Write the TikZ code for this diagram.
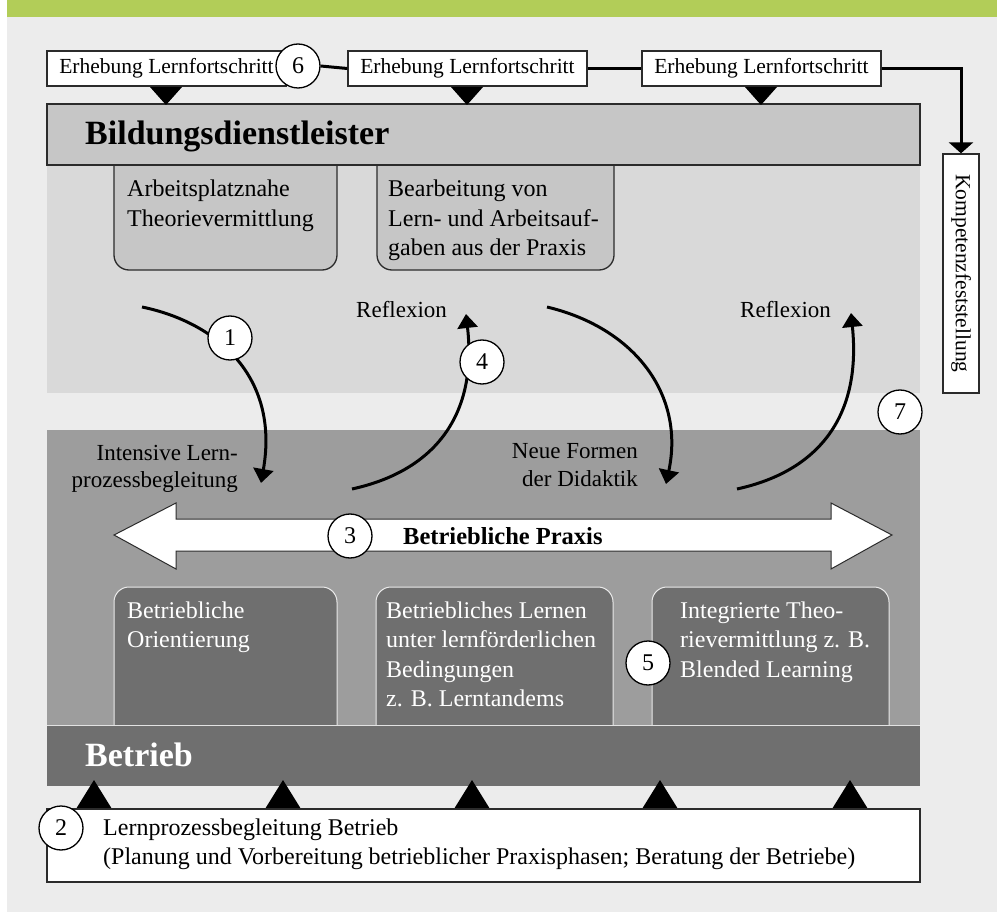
\documentclass[tikz,border=0pt]{standalone}
\usepackage{fontspec}
\setmainfont{Liberation Serif}
\usetikzlibrary{arrows.meta}
\definecolor{bggrey}{HTML}{ECECEC}
\definecolor{topgreen}{HTML}{B2CD58}
\definecolor{bargrey}{HTML}{C6C6C6}
\definecolor{lightarea}{HTML}{D9D9D9}
\definecolor{midarea}{HTML}{9D9D9D}
\definecolor{darkbox}{HTML}{6F6F6F}
\definecolor{edge}{HTML}{2B2B2B}
\newcommand\lft[1]{\vtop{\halign{##\hfil\cr#1\crcr}}}
\newcommand\rgt[1]{\vtop{\halign{\hfil##\cr#1\crcr}}}
\begin{document}
\begin{tikzpicture}[x=1pt,y=-1pt,
  erheb/.style={draw=edge, line width=1.3pt, fill=white, minimum width=239pt, minimum height=35pt, inner sep=0pt, font=\fontsize{21.5}{25}\selectfont},
  num/.style={circle, draw=black, line width=1.3pt, fill=white, minimum size=44pt, inner sep=0pt, font=\fontsize{24}{28}\selectfont},
  txt/.style={anchor=base west, inner sep=0pt, font=\fontsize{24}{29.5}\selectfont},
  lbl/.style={inner sep=0pt, font=\fontsize{23}{28}\selectfont},
  title/.style={anchor=base west, inner sep=0pt, font=\fontsize{34}{40}\selectfont\bfseries},
  upbox/.style={fill=bargrey, draw=edge, line width=1.3pt, rounded corners=15pt},
  lowbox/.style={fill=darkbox, draw=white!92!black, line width=1pt, rounded corners=15pt},
  conn/.style={line width=3pt},
  curv/.style={line width=3pt, -{Triangle[width=20pt,length=14pt]}},
  tri/.style={fill=black}
]
\useasboundingbox (0,0) rectangle (997,912);
\fill[white] (0,0) rectangle (997,912);
\fill[bggrey] (7,17) rectangle (997,912);
\fill[topgreen] (7,0) rectangle (997,17);

% areas
\fill[lightarea] (47,165) rectangle (920,393);
\fill[midarea] (47,430) rectangle (920,725);

% upper boxes
\draw[upbox] (114,165) -- (114,270) -- (337,270) -- (337,165);
\draw[upbox] (377,165) -- (377,270) -- (614,270) -- (614,165);
\draw[fill=bargrey, draw=edge, line width=1.3pt] (47,104) rectangle (920,165);
\node[title] (bdl) at (85,145) {Bildungsdienstleister};
\node[txt] (t1) at (127,197) {\lft{Arbeitsplatznahe\cr Theorievermittlung}};
\node[txt] (t2) at (388,197) {\lft{Bearbeitung von\cr Lern- und Arbeitsauf-\cr gaben aus der Praxis}};

% top row
\node[erheb] (e1) at (166.5,68.5) {Erhebung Lernfortschritt};
\node[erheb] (e2) at (467.5,68.5) {Erhebung Lernfortschritt};
\node[erheb] (e3) at (761.5,68.5) {Erhebung Lernfortschritt};
\node[num] (n6) at (298,66) {6};
\node[draw=edge, line width=1.3pt, fill=white, rotate=-90, minimum width=239pt, minimum height=36pt, inner sep=0pt, font=\fontsize{21.5}{25}\selectfont] (komp) at (961,273.5) {Kompetenzfeststellung};
\draw[conn] (n6.east) -- (e2.west);
\draw[conn] (e2.east) -- (e3.west);
\draw[conn, -{Triangle[width=24pt,length=11pt]}] (e3.east) -| (komp.west);
\fill[tri] (150,87) -- (182,87) -- (166,105) -- cycle;
\fill[tri] (451,87) -- (483,87) -- (467,105) -- cycle;
\fill[tri] (745,87) -- (777,87) -- (761,105) -- cycle;

% lower boxes
\draw[lowbox] (114,725) -- (114,587) -- (337,587) -- (337,725);
\draw[lowbox] (376,725) -- (376,587) -- (613,587) -- (613,725);
\draw[lowbox] (652,725) -- (652,587) -- (889,587) -- (889,725);
\node[txt, text=white] (b1) at (127,618) {\lft{Betriebliche\cr Orientierung}};
\node[txt, text=white] (b2) at (386,618) {\lft{Betriebliches Lernen\cr unter lernförderlichen\cr Bedingungen\cr z. B. Lerntandems}};
\node[txt, text=white] (b3) at (680,618) {\lft{Integrierte Theo-\cr rievermittlung z. B.\cr Blended Learning}};

% Betrieb bar
\fill[darkbox] (47,725) rectangle (920,786);
\draw[white!80!darkbox, line width=1pt] (47,725) -- (920,725);
\node[title, text=white] (btr) at (85,766) {Betrieb};

% double arrow
\draw[fill=white, draw=edge, line width=1pt] (114,535) -- (176,503) -- (176,519) -- (831,519) -- (831,503) -- (892,535) -- (831,569) -- (831,551) -- (176,551) -- (176,569) -- cycle;
\node[anchor=base west, inner sep=0pt, font=\fontsize{24.5}{29}\selectfont\bfseries] (bp) at (403,544) {Betriebliche Praxis};

% labels
\node[lbl, anchor=base west] (r1) at (356,318) {Reflexion};
\node[lbl, anchor=base west] (r2) at (740,318) {Reflexion};
\node[lbl, anchor=base east] (il) at (238,460) {\rgt{Intensive Lern-\cr prozessbegleitung}};
\node[lbl, anchor=base east] (nf) at (638,458) {\rgt{Neue Formen\cr der Didaktik}};

% curved arrows
\coordinate (a1s) at (142,307);
\coordinate (a1e) at (261,483);
\draw[curv] (a1s) .. controls (215,322) and (280,375) .. (a1e);
\coordinate (a4s) at (352,489);
\coordinate (a4e) at (466,314);
\draw[curv] (a4s) .. controls (430,472) and (478,420) .. (a4e);
\coordinate (a5s) at (547,307);
\coordinate (a5e) at (666,484);
\draw[curv] (a5s) .. controls (635,328) and (685,395) .. (a5e);
\coordinate (a7s) at (737,489);
\coordinate (a7e) at (851,313);
\draw[curv] (a7s) .. controls (815,472) and (862,420) .. (a7e);

% bottom
\fill[tri] (76,809) -- (112,809) -- (94,780) -- cycle;
\fill[tri] (265,809) -- (301,809) -- (283,780) -- cycle;
\fill[tri] (454,809) -- (490,809) -- (472,780) -- cycle;
\fill[tri] (642,809) -- (678,809) -- (660,780) -- cycle;
\fill[tri] (832,809) -- (868,809) -- (850,780) -- cycle;
\draw[fill=white, draw=edge, line width=1.3pt] (47,809) rectangle (920,882);
\node[txt] (lb) at (103,835) {\lft{Lernprozessbegleitung Betrieb\cr (Planung und Vorbereitung betrieblicher Praxisphasen; Beratung der Betriebe)}};

% numbers
\node[num] (n1) at (230,338) {1};
\node[num] (n2) at (61,828) {2};
\node[num] (n3) at (350,536) {3};
\node[num] (n4) at (482,362) {4};
\node[num] (n5) at (648,663) {5};
\node[num] (n7) at (900,412) {7};
\end{tikzpicture}
\end{document}
